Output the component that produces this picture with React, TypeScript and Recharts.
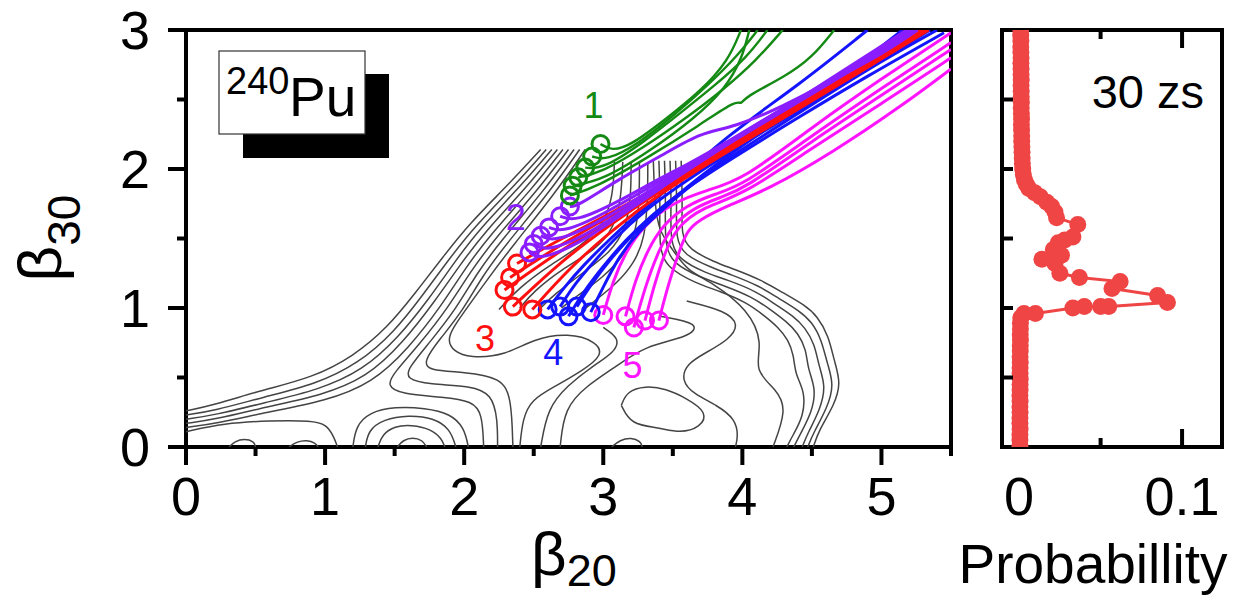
import React from 'react';
import { ComposedChart, Line, Scatter, XAxis, YAxis, ReferenceArea, ReferenceDot } from 'recharts';

type Pt = [number, number];

const FONT = 'Liberation Sans, Arial, Helvetica, sans-serif';

// ---- potential energy surface contours (beta20, beta30) ----
const contourA0: Pt[] = [[0, 0.26], [0.19, 0.3], [0.55, 0.41], [0.91, 0.5], [1.2, 0.65], [1.45, 0.86], [1.65, 1.11], [1.85, 1.37], [2.03, 1.6], [2.33, 1.9], [2.55, 2.14]];
const contourA1: Pt[] = [[0, 0.23], [0.2, 0.26], [0.56, 0.36], [0.93, 0.45], [1.24, 0.6], [1.5, 0.83], [1.7, 1.09], [1.89, 1.35], [2.07, 1.58], [2.37, 1.89], [2.59, 2.14]];
const contourA2: Pt[] = [[0, 0.2], [0.21, 0.23], [0.57, 0.32], [0.95, 0.41], [1.27, 0.55], [1.53, 0.79], [1.75, 1.07], [1.93, 1.33], [2.11, 1.57], [2.41, 1.88], [2.63, 2.14]];
const contourA3: Pt[] = [[0, 0.17], [0.22, 0.2], [0.58, 0.29], [0.97, 0.37], [1.3, 0.5], [1.56, 0.75], [1.79, 1.05], [1.97, 1.31], [2.15, 1.55], [2.45, 1.87], [2.67, 2.14]];
const contourA4: Pt[] = [[0, 0.14], [0.22, 0.17], [0.58, 0.25], [1.0, 0.33], [1.34, 0.46], [1.6, 0.71], [1.84, 1.02], [2.01, 1.29], [2.19, 1.53], [2.49, 1.86], [2.71, 2.14]];
const contourA5: Pt[] = [[0, 0.11], [0.27, 0.17], [0.6, 0.19], [0.91, 0.19], [1.01, 0.16], [1.06, 0.08], [1.09, 0]];
const contourV1: Pt[] = [[2.75, 2.14], [2.53, 1.85], [2.23, 1.51], [2.05, 1.27], [1.89, 1.01], [1.68, 0.74], [1.5, 0.54], [1.44, 0.44], [1.55, 0.38], [1.85, 0.36], [2.06, 0.33], [2.13, 0.24], [2.14, 0]];
const contourV2: Pt[] = [[2.79, 2.14], [2.57, 1.84], [2.27, 1.49], [2.09, 1.25], [1.94, 0.99], [1.75, 0.75], [1.6, 0.57], [1.58, 0.49], [1.75, 0.45], [2.05, 0.44], [2.2, 0.38], [2.24, 0.2], [2.24, 0]];
const contourV3: Pt[] = [[2.83, 2.14], [2.61, 1.83], [2.31, 1.47], [2.13, 1.23], [1.99, 0.98], [1.82, 0.77], [1.71, 0.62], [1.74, 0.55], [2.0, 0.54], [2.27, 0.5], [2.34, 0.35], [2.35, 0]];
const contourC1: Pt[] = [[2.87, 2.14], [2.65, 1.82], [2.35, 1.45], [2.17, 1.21], [2.02, 1.0], [1.92, 0.86], [1.88, 0.77], [1.92, 0.69], [2.04, 0.64], [2.3, 0.66], [2.5, 0.78], [2.75, 0.82], [2.95, 0.76], [3.0, 0.66], [2.85, 0.55], [2.66, 0.44], [2.48, 0.34], [2.42, 0.2], [2.4, 0]];
const contourM0: Pt[] = [[3.0, 0.86], [3.12, 0.78], [3.08, 0.68], [2.92, 0.58], [2.74, 0.44], [2.6, 0.28], [2.55, 0]];
const contourM1: Pt[] = [[3.41, 0.94], [3.7, 0.89], [3.62, 0.79], [3.3, 0.73], [3.08, 0.57], [2.88, 0.44], [2.72, 0.28], [2.69, 0]];
const contourM2: Pt[] = [[3.6, 1.05], [3.88, 0.98], [3.98, 0.88], [3.9, 0.77], [3.74, 0.68], [3.6, 0.6], [3.56, 0.48], [3.65, 0.38], [3.82, 0.3], [3.95, 0.2], [3.97, 0.08], [3.95, 0]];
const contourM3: Pt[] = [[3.13, 0.3], [3.2, 0.16], [3.4, 0.14], [3.55, 0.1], [3.7, 0.14], [3.75, 0.25], [3.6, 0.35], [3.45, 0.42], [3.3, 0.44], [3.17, 0.4], [3.13, 0.3]];
const contourB1: Pt[] = [[1.52, 0], [1.56, 0.05], [1.63, 0.07], [1.7, 0.05], [1.73, 0]];
const contourB2: Pt[] = [[1.38, 0], [1.41, 0.09], [1.5, 0.15], [1.62, 0.16], [1.76, 0.13], [1.84, 0.06], [1.86, 0]];
const contourB3: Pt[] = [[1.29, 0], [1.31, 0.12], [1.42, 0.2], [1.6, 0.23], [1.78, 0.21], [1.9, 0.13], [1.94, 0]];
const contourB4: Pt[] = [[1.2, 0], [1.22, 0.15], [1.32, 0.25], [1.5, 0.29], [1.72, 0.28], [1.9, 0.24], [2.0, 0.14], [2.03, 0]];
const contourL1: Pt[] = [[0.31, 0], [0.35, 0.04], [0.42, 0.06], [0.49, 0.04], [0.5, 0]];
const contourL2: Pt[] = [[0.74, 0], [0.8, 0.04], [0.87, 0.05], [0.93, 0.03], [0.95, 0]];
const contourL3: Pt[] = [[3.06, 0], [3.12, 0.05], [3.2, 0.07], [3.27, 0.04], [3.28, 0]];
const contourR0: Pt[] = [[3.56, 2.06], [3.57, 1.75], [3.56, 1.52], [3.62, 1.42], [3.8, 1.33], [3.94, 1.28], [4.14, 1.2], [4.29, 1.11], [4.45, 1.02], [4.54, 0.94], [4.62, 0.8], [4.66, 0.62], [4.71, 0.46], [4.66, 0.3], [4.55, 0.12], [4.51, 0]];
const contourR1: Pt[] = [[3.52, 2.06], [3.53, 1.75], [3.52, 1.5], [3.58, 1.38], [3.78, 1.29], [3.92, 1.24], [4.12, 1.16], [4.26, 1.07], [4.41, 0.98], [4.5, 0.9], [4.57, 0.77], [4.61, 0.6], [4.66, 0.45], [4.61, 0.28], [4.51, 0.1], [4.47, 0]];
const contourR2: Pt[] = [[3.48, 2.06], [3.49, 1.75], [3.48, 1.48], [3.54, 1.35], [3.74, 1.25], [3.9, 1.2], [4.1, 1.12], [4.23, 1.03], [4.37, 0.94], [4.45, 0.86], [4.52, 0.74], [4.55, 0.58], [4.6, 0.44], [4.56, 0.27], [4.47, 0.1], [4.43, 0]];
const contourR3: Pt[] = [[3.44, 2.06], [3.45, 1.75], [3.44, 1.45], [3.5, 1.32], [3.7, 1.22], [3.87, 1.16], [4.07, 1.08], [4.2, 0.99], [4.32, 0.9], [4.4, 0.82], [4.46, 0.7], [4.47, 0.56], [4.53, 0.42], [4.5, 0.25], [4.42, 0.1], [4.37, 0]];
const contourR4: Pt[] = [[3.4, 2.06], [3.41, 1.75], [3.4, 1.42], [3.46, 1.29], [3.66, 1.18], [3.84, 1.12], [4.03, 1.04], [4.15, 0.95], [4.26, 0.86], [4.33, 0.77], [4.37, 0.66], [4.38, 0.52], [4.45, 0.4], [4.44, 0.22], [4.36, 0.08], [4.32, 0]];
const contourR5: Pt[] = [[3.36, 2.06], [3.37, 1.75], [3.4, 1.55], [3.5, 1.42], [3.6, 1.27], [3.79, 1.18], [4.04, 0.99], [4.15, 0.75], [4.08, 0.55], [4.25, 0.41], [4.32, 0.27], [4.22, 0]];
const contourH1: Pt[] = [[3.08, 2.05], [3.07, 1.8], [3.0, 1.6], [2.85, 1.45], [2.6, 1.3], [2.4, 1.15], [2.25, 0.99]];
const contourH2: Pt[] = [[3.14, 2.05], [3.13, 1.8], [3.08, 1.58], [2.95, 1.42], [2.7, 1.28], [2.5, 1.12], [2.4, 1.0]];
const contourH3: Pt[] = [[3.2, 2.05], [3.2, 1.8], [3.16, 1.56], [3.05, 1.4], [2.85, 1.25], [2.65, 1.1], [2.55, 1.0]];
const contourH4: Pt[] = [[3.26, 2.05], [3.26, 1.8], [3.24, 1.55], [3.15, 1.38], [3.0, 1.22], [2.8, 1.08], [2.7, 1.0]];
const contourH5: Pt[] = [[3.32, 2.05], [3.32, 1.8], [3.3, 1.5], [3.22, 1.32], [3.1, 1.18], [2.95, 1.06], [2.85, 0.98]];

const CONTOURS: Pt[][] = [
  contourA0, contourA1, contourA2, contourA3, contourA4, contourA5,
  contourV1, contourV2, contourV3, contourC1, contourM0, contourM1, contourM2, contourM3,
  contourB1, contourB2, contourB3, contourB4, contourL1, contourL2, contourL3,
  contourR0, contourR1, contourR2, contourR3, contourR4, contourR5,
  contourH1, contourH2, contourH3, contourH4, contourH5,
];

// ---- fission trajectories (first point = starting circle) ----
const trajMagenta: Pt[][] = [
  [[3.0, 0.95], [3.07, 1.2], [3.17, 1.42], [3.3, 1.6], [3.5, 1.76], [3.75, 1.85], [4.0, 1.92], [4.5, 2.3], [5.0, 2.65], [5.5, 2.98]],
  [[3.16, 0.94], [3.23, 1.2], [3.32, 1.42], [3.43, 1.6], [3.6, 1.74], [3.8, 1.82], [4.0, 1.88], [4.5, 2.24], [5.0, 2.58], [5.5, 2.91]],
  [[3.22, 0.86], [3.3, 1.15], [3.4, 1.42], [3.5, 1.6], [3.65, 1.72], [3.85, 1.8], [4.0, 1.85], [4.5, 2.2], [5.0, 2.53], [5.5, 2.86]],
  [[3.3, 0.91], [3.37, 1.18], [3.45, 1.42], [3.53, 1.58], [3.7, 1.72], [4.0, 1.81], [4.5, 2.15], [5.0, 2.47], [5.5, 2.8]],
  [[3.4, 0.91], [3.47, 1.18], [3.55, 1.42], [3.6, 1.55], [3.68, 1.63], [3.9, 1.74], [4.18, 1.85], [4.65, 2.12], [5.14, 2.45], [5.5, 2.72]],
];
const trajBlue: Pt[][] = [
  [[2.6, 0.99], [2.72, 1.15], [2.85, 1.3], [3.05, 1.5], [3.25, 1.68], [3.45, 1.84], [3.9, 2.25], [4.4, 2.6], [4.9, 3.0]],
  [[2.69, 1.01], [2.8, 1.18], [2.93, 1.33], [3.1, 1.52], [3.3, 1.7], [3.5, 1.85], [3.9, 2.12], [4.4, 2.42], [4.9, 2.72], [5.35, 3.0]],
  [[2.75, 0.94], [2.86, 1.12], [3.0, 1.3], [3.15, 1.48], [3.35, 1.67], [3.55, 1.83], [3.9, 2.06], [4.4, 2.37], [4.9, 2.67], [5.45, 2.98]],
  [[2.81, 1.01], [2.92, 1.18], [3.05, 1.35], [3.2, 1.52], [3.4, 1.7], [3.6, 1.87], [3.9, 2.1], [4.4, 2.45], [4.9, 2.8], [5.15, 3.0]],
  [[2.91, 0.97], [3.0, 1.15], [3.1, 1.35], [3.25, 1.55], [3.45, 1.73], [3.65, 1.9], [3.9, 2.08], [4.4, 2.4], [4.9, 2.72], [5.4, 3.0]],
];
const trajRed: Pt[][] = [
  [[2.38, 1.32], [2.7, 1.5], [3.05, 1.68], [3.4, 1.87], [3.9, 2.17], [4.4, 2.47], [4.9, 2.77], [5.26, 3.0]],
  [[2.33, 1.22], [2.7, 1.46], [3.05, 1.66], [3.4, 1.86], [3.9, 2.16], [4.4, 2.46], [4.9, 2.76], [5.28, 3.0]],
  [[2.29, 1.13], [2.7, 1.42], [3.05, 1.63], [3.4, 1.85], [3.9, 2.15], [4.4, 2.45], [4.9, 2.75], [5.3, 3.0]],
  [[2.35, 1.01], [2.7, 1.34], [3.05, 1.6], [3.4, 1.84], [3.9, 2.14], [4.4, 2.44], [4.9, 2.74], [5.32, 3.0]],
  [[2.49, 0.99], [2.75, 1.28], [3.05, 1.55], [3.4, 1.82], [3.9, 2.13], [4.4, 2.43], [4.9, 2.73], [5.34, 3.0]],
];
const trajPurple: Pt[][] = [
  [[2.76, 1.73], [2.81, 1.73], [3.1, 1.92], [3.46, 2.12], [3.7, 2.26], [3.94, 2.3], [4.29, 2.45], [4.65, 2.64], [5.01, 2.83], [5.26, 3.0]],
  [[2.69, 1.66], [2.8, 1.62], [3.1, 1.76], [3.4, 1.93], [3.6, 2.03], [3.9, 2.2], [4.4, 2.5], [4.9, 2.8], [5.2, 3.0]],
  [[2.61, 1.58], [2.72, 1.54], [3.05, 1.7], [3.4, 1.91], [3.9, 2.19], [4.4, 2.49], [4.9, 2.79], [5.22, 3.0]],
  [[2.55, 1.52], [2.65, 1.47], [3.0, 1.63], [3.4, 1.89], [3.9, 2.18], [4.4, 2.48], [4.9, 2.78], [5.24, 3.0]],
  [[2.5, 1.46], [2.6, 1.4], [2.95, 1.56], [3.4, 1.88], [3.9, 2.2], [4.4, 2.5], [4.9, 2.8], [5.2, 3.0]],
  [[2.47, 1.4], [2.55, 1.34], [2.9, 1.5], [3.4, 1.86], [3.9, 2.18], [4.4, 2.5], [4.9, 2.82], [5.18, 3.0]],
];
const trajGreen: Pt[][] = [
  [[2.98, 2.18], [3.06, 2.13], [3.2, 2.17], [3.45, 2.36], [3.7, 2.56], [3.9, 2.78], [3.99, 3.0]],
  [[2.92, 2.09], [3.02, 2.06], [3.25, 2.18], [3.5, 2.38], [3.75, 2.6], [3.97, 2.82], [4.11, 3.0]],
  [[2.87, 2.01], [3.0, 2.0], [3.3, 2.2], [3.55, 2.4], [3.8, 2.6], [4.03, 2.8], [4.18, 3.0]],
  [[2.82, 1.94], [2.98, 1.97], [3.3, 2.16], [3.6, 2.37], [3.85, 2.56], [4.1, 2.78], [4.29, 3.0]],
  [[2.78, 1.88], [3.0, 1.92], [3.35, 2.14], [3.65, 2.36], [3.88, 2.58], [4.0, 2.8], [4.05, 3.0]],
  [[2.76, 1.81], [2.95, 1.87], [3.3, 2.07], [3.7, 2.32], [3.96, 2.5], [3.99, 2.46], [4.02, 2.52], [4.3, 2.66], [4.5, 2.8], [4.66, 3.0]],
];

const GROUPS = [
  { name: 'magenta', color: '#ff14ff', width: 3, traj: trajMagenta },
  { name: 'blue', color: '#1414ff', width: 3, traj: trajBlue },
  { name: 'red', color: '#ff1010', width: 3, traj: trajRed },
  { name: 'purple', color: '#8a1eff', width: 3, traj: trajPurple },
  { name: 'green', color: '#148a14', width: 2.4, traj: trajGreen },
];

// region numbers
const REGION_LABELS = [
  { text: '1', x: 2.93, y: 2.46, color: '#148a14' },
  { text: '2', x: 2.37, y: 1.65, color: '#8a1eff' },
  { text: '3', x: 2.15, y: 0.78, color: '#ff1010' },
  { text: '4', x: 2.64, y: 0.68, color: '#1414ff' },
  { text: '5', x: 3.21, y: 0.59, color: '#ff14ff' },
];

// ---- fragment probability at 30 zs: [probability, beta30] ----
const probability: Pt[] = [
  [0.001, 3.0], [0.001, 2.96], [0.0011, 2.92], [0.001, 2.88], [0.0011, 2.84], [0.0012, 2.8], [0.0011, 2.76], [0.0012, 2.72],
  [0.0012, 2.68], [0.0013, 2.64], [0.0012, 2.6], [0.0013, 2.56], [0.0013, 2.52], [0.0014, 2.48], [0.0013, 2.44], [0.0014, 2.4],
  [0.0015, 2.36], [0.0014, 2.32], [0.0015, 2.28], [0.0016, 2.24], [0.0016, 2.2], [0.0017, 2.16], [0.0018, 2.12], [0.0019, 2.08],
  [0.002, 2.04], [0.0022, 2.0], [0.0026, 1.96], [0.0033, 1.92], [0.0045, 1.89], [0.006, 1.86], [0.0095, 1.83], [0.013, 1.8],
  [0.017, 1.76], [0.02, 1.73], [0.022, 1.69], [0.023, 1.65], [0.036, 1.6], [0.033, 1.51], [0.028, 1.49], [0.024, 1.47],
  [0.021, 1.42], [0.026, 1.38], [0.014, 1.35], [0.022, 1.32], [0.025, 1.25], [0.037, 1.22], [0.062, 1.19], [0.057, 1.14],
  [0.085, 1.09], [0.091, 1.04], [0.055, 1.01], [0.05, 1.01], [0.04, 1.01], [0.033, 1.0], [0.01, 0.96], [0.003, 0.96],
  [0.001, 0.93], [0.0008, 0.89], [0.0008, 0.85], [0.0007, 0.81], [0.0008, 0.77], [0.0007, 0.73], [0.0007, 0.69], [0.0006, 0.65],
  [0.0007, 0.61], [0.0006, 0.57], [0.0006, 0.53], [0.0007, 0.49], [0.0006, 0.45], [0.0006, 0.41], [0.0005, 0.37], [0.0006, 0.33],
  [0.0005, 0.29], [0.0006, 0.25], [0.0005, 0.21], [0.0005, 0.17], [0.0006, 0.13], [0.0005, 0.09], [0.0005, 0.05], [0.0005, 0.01],
];

const X_TICKS = [0, 0.5, 1, 1.5, 2, 2.5, 3, 3.5, 4, 4.5, 5, 5.5];
const Y_TICKS = [0, 0.5, 1, 1.5, 2, 2.5, 3];
const P_TICKS = [0, 0.05, 0.1];
const B_TICKS = [0.5, 1, 1.5, 2, 2.5];
const P_DOMAIN: [number, number] = [-0.0105, 0.1245];
const PROB_COLOR = '#ef4545';
const PLOT_H = 417;

const toXY = (pts: Pt[]) => pts.map(([x, y]) => ({ x, y }));
const isMajor = (v: number) => Math.abs(v - Math.round(v)) < 1e-6;

const MainXTick = (props: any) => {
  const { x, y, payload } = props;
  const v = payload.value;
  const major = isMajor(v);
  return (
    <g>
      <line x1={x} x2={x} y1={y} y2={y + (major ? 18 : 9)} stroke="#000" strokeWidth={4} />
      {major && (
        <text x={x} y={y + 68} textAnchor="middle" fontSize={54} fontFamily={FONT} fill="#000">
          {v}
        </text>
      )}
    </g>
  );
};

const MainYTick = (props: any) => {
  const { x, y, payload } = props;
  const v = payload.value;
  const major = isMajor(v);
  return (
    <g>
      <line x1={x - (major ? 18 : 9)} x2={x} y1={y} y2={y} stroke="#000" strokeWidth={4} />
      {major && (
        <text x={x - 36} y={y} dy="0.36em" textAnchor="end" fontSize={54} fontFamily={FONT} fill="#000">
          {v}
        </text>
      )}
    </g>
  );
};

// ticks point inward on this panel, top ticks mirror the bottom ones
const ProbXTick = (props: any) => {
  const { x, y, payload } = props;
  const v = payload.value;
  const len = v === 0 ? 0 : v > 0.07 ? 18 : 9;
  return (
    <g>
      {len > 0 && <line x1={x} x2={x} y1={y} y2={y - len} stroke="#000" strokeWidth={4} />}
      {len > 0 && <line x1={x} x2={x} y1={y - PLOT_H} y2={y - PLOT_H + len} stroke="#000" strokeWidth={4} />}
      {v !== 0.05 && (
        <text x={x} y={y + 68} textAnchor="middle" fontSize={54} fontFamily={FONT} fill="#000">
          {v}
        </text>
      )}
    </g>
  );
};

const ProbYTick = (props: any) => {
  const { x, y } = props;
  return <line x1={x} x2={x + 11} y1={y} y2={y} stroke="#000" strokeWidth={4} />;
};

const startCircle = (color: string) => (props: any) => (
  <circle cx={props.cx} cy={props.cy} r={8.5} fill="none" stroke={color} strokeWidth={3} />
);

export default function App() {
  const probData = probability.map(([p, b]) => ({ p, b }));
  return (
    <div style={{ position: 'absolute', left: 0, top: 0, width: 1237, height: 599, background: '#fff' }}>
      <div style={{ position: 'absolute', left: 0, top: 0 }}>
        <ComposedChart width={980} height={599} margin={{ top: 30, right: 29, bottom: 92, left: 126 }}>
          <XAxis type="number" dataKey="x" domain={[0, 5.5]} ticks={X_TICKS} interval={0} tickSize={0} tickMargin={0}
            tickLine={false} axisLine={false} tick={<MainXTick />} height={60} allowDataOverflow />
          <YAxis type="number" dataKey="y" domain={[0, 3]} ticks={Y_TICKS} interval={0} tickSize={0} tickMargin={0}
            tickLine={false} axisLine={false} tick={<MainYTick />} width={60} allowDataOverflow />
          {CONTOURS.map((c, i) => (
            <Line key={'c' + i} data={toXY(c)} dataKey="y" type="basis" stroke="#444444" strokeWidth={1.5}
              dot={false} activeDot={false} isAnimationActive={false} />
          ))}
          {GROUPS.map((g) =>
            g.traj.map((t, i) => (
              <Line key={g.name + i} data={toXY(t)} dataKey="y" type="basis" stroke={g.color} strokeWidth={g.width}
                dot={false} activeDot={false} isAnimationActive={false} />
            ))
          )}
          {GROUPS.map((g) => (
            <Scatter key={g.name + 'start'} data={g.traj.map((t) => ({ x: t[0][0], y: t[0][1] }))}
              shape={startCircle(g.color)} isAnimationActive={false} />
          ))}
          {REGION_LABELS.map((l) => (
            <ReferenceDot key={'lab' + l.text} x={l.x} y={l.y} r={1} fill="none" stroke="none"
              label={{ value: l.text, position: 'center', fill: l.color, fontSize: 36, fontFamily: FONT }} />
          ))}
          <ReferenceArea x1={0} x2={5.5} y1={0} y2={3} fill="none" stroke="#000" strokeWidth={4} />
        </ComposedChart>
      </div>
      <div style={{ position: 'absolute', left: 980, top: 0 }}>
        <ComposedChart width={257} height={599} margin={{ top: 30, right: 15, bottom: 92, left: 12 }}>
          <XAxis type="number" dataKey="p" domain={P_DOMAIN} ticks={P_TICKS} interval={0} tickSize={0} tickMargin={0}
            tickLine={false} axisLine={false} tick={<ProbXTick />} height={60} allowDataOverflow />
          <YAxis type="number" dataKey="b" domain={[0, 3]} ticks={B_TICKS} interval={0} tickSize={0} tickMargin={0}
            tickLine={false} axisLine={false} tick={<ProbYTick />} width={10} allowDataOverflow />
          <Line data={probData} dataKey="b" type="linear" stroke={PROB_COLOR} strokeWidth={3}
            dot={{ r: 8.5, fill: PROB_COLOR, stroke: 'none' }} activeDot={false} isAnimationActive={false} />
          <ReferenceArea x1={P_DOMAIN[0]} x2={P_DOMAIN[1]} y1={0} y2={3} fill="none" stroke="#000" strokeWidth={4} />
        </ComposedChart>
      </div>
      <svg width={1237} height={599} style={{ position: 'absolute', left: 0, top: 0, pointerEvents: 'none' }}
        fontFamily={FONT}>
        <rect x={243} y={74} width={146} height={84} fill="#000" />
        <rect x={219} y={51} width={146} height={83} fill="#fff" stroke="#333" strokeWidth={1.2} />
        <text x={226} y={94} fontSize={38} fill="#000">240</text>
        <text x={289} y={116} fontSize={55} fill="#000">Pu</text>
        <text x={1204} y={108} textAnchor="end" fontSize={47} fill="#000">30 zs</text>
        <text transform="translate(61,238) rotate(-90)" textAnchor="middle" fontSize={62} fill="#000">
          β<tspan fontSize={46} dy={19}>30</tspan>
        </text>
        <text x={531} y={575} fontSize={62} fill="#000">
          β<tspan fontSize={45} dy={11}>20</tspan>
        </text>
        <text x={1093} y={583} textAnchor="middle" fontSize={55} fill="#000">Probabillity</text>
      </svg>
    </div>
  );
}
